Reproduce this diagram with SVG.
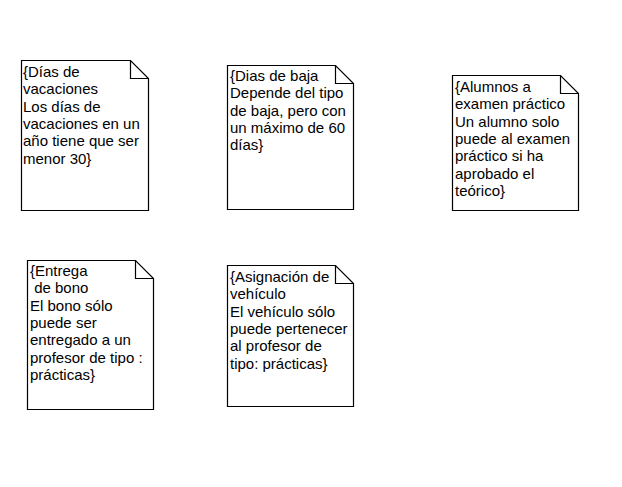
<svg xmlns="http://www.w3.org/2000/svg" width="622" height="487" viewBox="0 0 622 487">
<style>
.note{fill:#fff;stroke:#000;stroke-width:1.2}
.fold{fill:none;stroke:#000;stroke-width:1.2}
text{font-family:"Liberation Sans",Arial,sans-serif;font-size:15px;fill:#000}
</style>
<rect width="622" height="487" fill="#fff"/>
<g id="note-vacaciones">
<path class="note" d="M21.5 60.5 H130.5 L148.5 78.5 V210.5 H21.5 Z"/>
<path class="fold" d="M130.5 60.5 V78.5 H148.5"/>
<text x="23" y="77"><tspan x="23">{Días de</tspan><tspan x="23" dy="17.3">vacaciones</tspan><tspan x="23" dy="17.3">Los días de</tspan><tspan x="23" dy="17.3">vacaciones en un</tspan><tspan x="23" dy="17.3">año tiene que ser</tspan><tspan x="23" dy="17.3">menor 30}</tspan></text>
</g>
<g id="note-baja">
<path class="note" d="M227.5 65.5 H335.5 L353.5 83.5 V209.5 H227.5 Z"/>
<path class="fold" d="M335.5 65.5 V83.5 H353.5"/>
<text x="230" y="81"><tspan x="230">{Dias de baja</tspan><tspan x="230" dy="17.3">Depende del tipo</tspan><tspan x="230" dy="17.3">de baja, pero con</tspan><tspan x="230" dy="17.3">un máximo de 60</tspan><tspan x="230" dy="17.3">días}</tspan></text>
</g>
<g id="note-examen">
<path class="note" d="M452.5 75.5 H560.5 L578.5 93.5 V210.5 H452.5 Z"/>
<path class="fold" d="M560.5 75.5 V93.5 H578.5"/>
<text x="455" y="92"><tspan x="455">{Alumnos a</tspan><tspan x="455" dy="17.3">examen práctico</tspan><tspan x="455" dy="17.3">Un alumno solo</tspan><tspan x="455" dy="17.3">puede al examen</tspan><tspan x="455" dy="17.3">práctico si ha</tspan><tspan x="455" dy="17.3">aprobado el</tspan><tspan x="455" dy="17.3">teórico}</tspan></text>
</g>
<g id="note-bono">
<path class="note" d="M27.5 260.5 H135.5 L153.5 278.5 V409.5 H27.5 Z"/>
<path class="fold" d="M135.5 260.5 V278.5 H153.5"/>
<text x="30" y="276"><tspan x="30">{Entrega</tspan><tspan x="30" dy="17.3" xml:space="preserve">&#160;de bono</tspan><tspan x="30" dy="17.3">El bono sólo</tspan><tspan x="30" dy="17.3">puede ser</tspan><tspan x="30" dy="17.3">entregado a un</tspan><tspan x="30" dy="17.3">profesor de tipo :</tspan><tspan x="30" dy="17.3">prácticas}</tspan></text>
</g>
<g id="note-vehiculo">
<path class="note" d="M227.5 265.5 H335.5 L353.5 283.5 V406.5 H227.5 Z"/>
<path class="fold" d="M335.5 265.5 V283.5 H353.5"/>
<text x="230" y="282"><tspan x="230">{Asignación de</tspan><tspan x="230" dy="17.3">vehículo</tspan><tspan x="230" dy="17.3">El vehículo sólo</tspan><tspan x="230" dy="17.3">puede pertenecer</tspan><tspan x="230" dy="17.3">al profesor de</tspan><tspan x="230" dy="17.3">tipo: prácticas}</tspan></text>
</g>
<g id="connectors"/>
</svg>
